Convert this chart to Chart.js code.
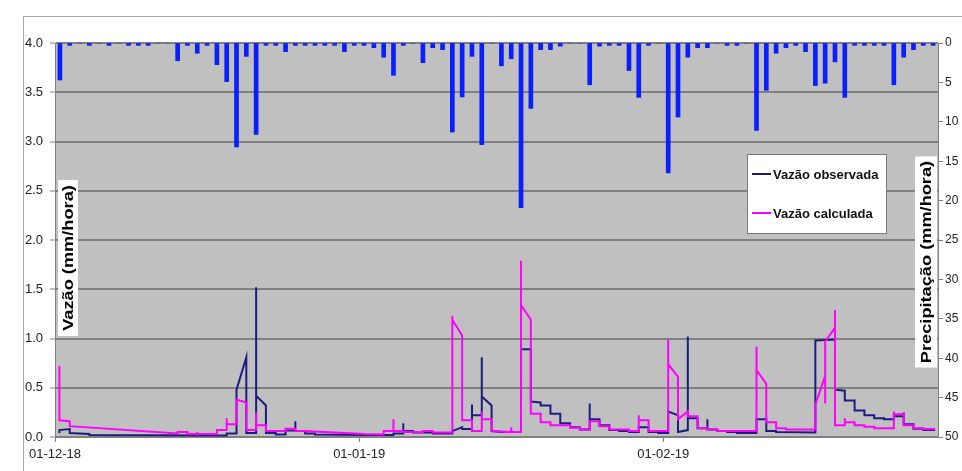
<!DOCTYPE html>
<html lang="pt">

<head>
  <meta charset="UTF-8">
  <meta name="viewport" content="width=device-width, initial-scale=1.0">
  <script src="https://cdn.jsdelivr.net/npm/chart.js@4.4.0/dist/chart.umd.min.js"></script>
  <title>Vazão x Precipitação</title>
</head>

<body>
  <canvas id="grafico" width="962" height="471"></canvas>
</body>

<script>
  // dias do eixo x (0 = 01-12-18)
  var xTickDays = [0, 31, 62];
  var xTickLabels = ['01-12-18', '01-01-19', '01-02-19'];

  // precipitação diária (mm), 01-12-18 .. 28-02-19
  var precip = [
    4.7, 0.3, 0, 0.3, 0, 0.3, 0, 0.3, 0.3, 0.3,
    0, 0, 2.25, 0.3, 1.3, 0.3, 2.75, 4.9, 13.2, 1.7,
    11.6, 0.3, 0.3, 1.1, 0.3, 0.3, 0.3, 0.3, 0.3, 1.1,
    0.3, 0.3, 0.6, 1.8, 4.1, 0.3, 0, 2.5, 0.6, 0.85,
    11.3, 6.85, 1.7, 12.9, 0, 2.9, 2.0, 20.9, 8.3, 0.85,
    0.85, 0.4, 0, 0, 5.3, 0.4, 0.3, 0.3, 3.5, 6.9,
    0.3, 0, 16.5, 9.4, 1.8, 0.6, 0.6, 0, 0.3, 0.3,
    0, 11.1, 6.0, 1.3, 0.6, 0.3, 1.1, 5.4, 5.1, 2.4,
    6.9, 0.3, 0.3, 0.3, 0.3, 5.3, 1.8, 0.85, 0.3, 0.3
  ];

  // vazão observada [dia, mm/hora]
  var observada = [
    [0.45, 0.04], [0.45, 0.07], [1.5, 0.08], [1.5, 0.04], [3.5, 0.03], [3.5, 0.02], [17.5, 0.015], [17.5, 0.035],
    [18.5, 0.035], [18.5, 0.48], [19.5, 0.81], [19.5, 0.04], [20.5, 0.04], [20.5, 1.52], [20.5, 0.42], [21.5, 0.32],
    [21.5, 0.04], [22.5, 0.04], [22.5, 0.025], [23.5, 0.025], [23.5, 0.065], [24.5, 0.065], [24.5, 0.16], [24.5, 0.06],
    [25.5, 0.06], [25.5, 0.035], [26.5, 0.035], [26.5, 0.025], [31.5, 0.02], [34.5, 0.02], [34.5, 0.035], [35.5, 0.035],
    [35.5, 0.14], [35.5, 0.06], [36.5, 0.06], [36.5, 0.045], [38.5, 0.045], [38.5, 0.035], [40.5, 0.035], [40.5, 0.06],
    [41.5, 0.1], [41.5, 0.08], [42.5, 0.08], [42.5, 0.33], [42.5, 0.22], [43.5, 0.22], [43.5, 0.81], [43.5, 0.41],
    [44.5, 0.32], [44.5, 0.06], [45.5, 0.05], [46.5, 0.05], [46.5, 0.07], [46.5, 0.05], [47.5, 0.05], [47.5, 0.89],
    [48.5, 0.89], [48.5, 0.36], [49.5, 0.35], [49.5, 0.32], [50.5, 0.32], [50.5, 0.235], [51.5, 0.235], [51.5, 0.14],
    [52.5, 0.14], [52.5, 0.10], [53.5, 0.10], [53.5, 0.075], [54.5, 0.075], [54.5, 0.34], [54.5, 0.18], [55.5, 0.18],
    [55.5, 0.12], [56.5, 0.12], [56.5, 0.07], [57.5, 0.07], [57.5, 0.06], [58.5, 0.06], [58.5, 0.05], [59.5, 0.05],
    [59.5, 0.10], [60.5, 0.10], [60.5, 0.05], [61.5, 0.05], [61.5, 0.04], [62.5, 0.04], [62.5, 0.26], [63.5, 0.22],
    [63.5, 0.05], [64.5, 0.07], [64.5, 1.02], [64.5, 0.19], [65.5, 0.19], [65.5, 0.09], [66.5, 0.09], [66.5, 0.18],
    [66.5, 0.075], [67.5, 0.075], [67.5, 0.06], [68.5, 0.06], [68.5, 0.05], [69.5, 0.05], [69.5, 0.04], [71.5, 0.04],
    [71.5, 0.18], [72.5, 0.18], [72.5, 0.06], [73.5, 0.06], [73.5, 0.05], [77.5, 0.045], [77.5, 0.98], [79.5, 0.99],
    [79.5, 0.48], [80.5, 0.47], [80.5, 0.37], [81.5, 0.37], [81.5, 0.27], [82.5, 0.27], [82.5, 0.22], [83.5, 0.22],
    [83.5, 0.19], [84.5, 0.19], [84.5, 0.18], [85.5, 0.18], [85.5, 0.21], [86.5, 0.21], [86.5, 0.25], [86.5, 0.13],
    [87.5, 0.13], [87.5, 0.085], [88.5, 0.085], [88.5, 0.07], [89.7, 0.07]
  ];

  // vazão calculada [dia, mm/hora]
  var calculada = [
    [0.45, 0.72], [0.45, 0.17], [1.5, 0.16], [1.5, 0.11], [12.5, 0.035], [12.5, 0.05], [13.5, 0.05], [13.5, 0.03],
    [14.5, 0.03], [14.5, 0.05], [14.5, 0.03], [16.5, 0.03], [16.5, 0.07], [17.5, 0.07], [17.5, 0.19], [17.5, 0.13],
    [18.5, 0.13], [18.5, 0.38], [19.5, 0.35], [19.5, 0.07], [20.5, 0.07], [20.5, 0.25], [20.5, 0.12], [21.5, 0.12],
    [21.5, 0.06], [23.5, 0.06], [23.5, 0.085], [24.5, 0.085], [24.5, 0.06], [25.5, 0.06], [31.5, 0.03], [33.5, 0.025],
    [33.5, 0.06], [34.5, 0.06], [34.5, 0.18], [34.5, 0.06], [35.5, 0.06], [35.5, 0.05], [37.5, 0.05], [37.5, 0.06],
    [38.5, 0.06], [38.5, 0.045], [40.5, 0.045], [40.5, 1.23], [40.5, 1.19], [41.5, 1.03], [41.5, 0.17], [42.5, 0.17],
    [42.5, 0.06], [43.5, 0.06], [43.5, 0.26], [43.5, 0.18], [44.5, 0.18], [44.5, 0.06], [46.5, 0.05], [46.5, 0.1],
    [46.5, 0.05], [47.5, 0.05], [47.5, 1.79], [47.5, 1.34], [48.5, 1.19], [48.5, 0.235], [49.5, 0.235], [49.5, 0.15],
    [50.5, 0.15], [50.5, 0.12], [52.5, 0.12], [52.5, 0.095], [53.5, 0.095], [53.5, 0.075], [54.5, 0.075], [54.5, 0.16],
    [55.5, 0.16], [55.5, 0.11], [56.5, 0.11], [56.5, 0.075], [58.5, 0.075], [58.5, 0.06], [59.5, 0.06], [59.5, 0.22],
    [59.5, 0.17], [60.5, 0.17], [60.5, 0.06], [62.5, 0.06], [62.5, 0.99], [62.5, 0.74], [63.5, 0.61], [63.5, 0.18],
    [64.5, 0.26], [64.5, 0.21], [65.5, 0.21], [65.5, 0.09], [66.5, 0.09], [66.5, 0.075], [67.5, 0.075], [67.5, 0.06],
    [71.5, 0.06], [71.5, 0.92], [71.5, 0.68], [72.5, 0.54], [72.5, 0.15], [73.5, 0.15], [73.5, 0.09], [74.5, 0.09],
    [74.5, 0.075], [77.5, 0.075], [77.5, 0.33], [78.5, 0.62], [78.5, 0.34], [78.5, 0.97], [79.5, 1.11], [79.5, 1.29],
    [79.5, 0.12], [80.5, 0.12], [80.5, 0.19], [80.5, 0.15], [81.5, 0.15], [81.5, 0.12], [82.5, 0.12], [82.5, 0.105],
    [83.5, 0.105], [83.5, 0.09], [85.5, 0.09], [85.5, 0.26], [85.5, 0.23], [86.5, 0.23], [86.5, 0.12], [87.5, 0.12],
    [87.5, 0.09], [88.5, 0.09], [88.5, 0.08], [89.7, 0.08]
  ];

  var corObservada = '#1c1c80';
  var corCalculada = '#ff00ff';
  var fonte = '"Liberation Sans", Arial, sans-serif';

  Chart.defaults.font.family = fonte;
  Chart.defaults.color = '#333';

  // barras no meio de cada dia (objetos: array seria lido como barra flutuante)
  var precipData = precip.map(function (v, i) { return { x: i + 0.5, y: v }; });

  /* titulo rotacionado com caixa branca, dentro da area do grafico */
  function tituloLateral(ctx, texto, cx, cy, w, h) {
    ctx.fillStyle = '#fff';
    ctx.fillRect(cx - w / 2, cy - h / 2, w, h);
    ctx.save();
    ctx.translate(cx, cy);
    ctx.rotate(-Math.PI / 2);
    ctx.scale(1.3, 1);
    ctx.font = 'bold 14px ' + fonte;
    ctx.textAlign = 'center';
    ctx.textBaseline = 'middle';
    ctx.fillStyle = '#000';
    ctx.fillText(texto, 0, 1);
    ctx.restore();
  }

  var decoracao = {
    id: 'decoracao',
    beforeDraw: function (chart) {
      var ctx = chart.ctx, a = chart.chartArea;
      ctx.save();
      ctx.fillStyle = '#fff';
      ctx.fillRect(0, 0, chart.width, chart.height);
      ctx.strokeStyle = '#a8a8a8';
      ctx.lineWidth = 1;
      ctx.beginPath();
      ctx.moveTo(23.5, chart.height);
      ctx.lineTo(23.5, 16.5);
      ctx.lineTo(chart.width, 16.5);
      ctx.stroke();
      ctx.fillStyle = '#c0c0c0';
      ctx.fillRect(a.left, a.top, a.right - a.left, a.bottom - a.top);
      ctx.restore();
    },
    afterDraw: function (chart) {
      var ctx = chart.ctx;
      ctx.save();
      tituloLateral(ctx, 'Vazão (mm/hora)', 68, 258, 20, 156);
      tituloLateral(ctx, 'Precipitação (mm/hora)', 926, 262, 22, 211);

      // legenda
      ctx.fillStyle = '#fff';
      ctx.fillRect(747, 154, 139, 79);
      ctx.strokeStyle = '#7a7a7a';
      ctx.lineWidth = 1;
      ctx.strokeRect(747.5, 154.5, 139, 79);
      var itens = [['Vazão observada', corObservada, 174], ['Vazão calculada', corCalculada, 213]];
      itens.forEach(function (it) {
        ctx.strokeStyle = it[1];
        ctx.lineWidth = 2;
        ctx.beginPath();
        ctx.moveTo(752, it[2]);
        ctx.lineTo(771, it[2]);
        ctx.stroke();
        ctx.fillStyle = '#111';
        ctx.font = 'bold 13px ' + fonte;
        ctx.textAlign = 'left';
        ctx.textBaseline = 'middle';
        ctx.fillText(it[0], 773, it[2] + 1);
      });
      ctx.restore();
    }
  };

  var ctx = document.getElementById('grafico').getContext('2d');
  var grafico = new Chart(ctx, {
    type: 'bar',
    data: {
      datasets: [{
        type: 'line',
        label: 'Vazão calculada',
        data: calculada,
        yAxisID: 'y',
        borderColor: corCalculada,
        borderWidth: 2,
        pointRadius: 0,
        tension: 0,
        fill: false,
        order: 0
      }, {
        type: 'line',
        label: 'Vazão observada',
        data: observada,
        yAxisID: 'y',
        borderColor: corObservada,
        borderWidth: 2,
        pointRadius: 0,
        tension: 0,
        fill: false,
        order: 1
      }, {
        label: 'Precipitação',
        data: precipData,
        yAxisID: 'y2',
        backgroundColor: '#0a1eff',
        borderWidth: 0,
        barThickness: 4,
        order: 2
      }]
    },
    options: {
      responsive: false,
      animation: false,
      layout: { padding: { top: 43, left: 0, right: 0, bottom: 0 } },
      plugins: {
        legend: { display: false },
        tooltip: { enabled: false }
      },
      scales: {
        x: {
          type: 'linear',
          min: 0,
          max: 90,
          offset: false,
          afterFit: function (scale) { scale.height = 34; },
          afterBuildTicks: function (scale) {
            scale.ticks = xTickDays.map(function (d) { return { value: d }; });
          },
          ticks: {
            autoSkip: false,
            maxRotation: 0,
            padding: 5,
            color: '#222',
            font: { size: 13 },
            callback: function (v) { return xTickLabels[xTickDays.indexOf(v)]; }
          },
          grid: { offset: false, drawOnChartArea: false, tickLength: 5, color: '#808080' },
          border: { color: '#808080' }
        },
        y: {
          position: 'left',
          min: 0,
          max: 4,
          afterFit: function (scale) { scale.width = 55; },
          ticks: {
            stepSize: 0.5,
            padding: 7,
            color: '#222',
            font: { size: 13 },
            callback: function (v) { return v.toFixed(1); }
          },
          grid: { color: '#808080', lineWidth: 2, tickLength: 5, tickWidth: 1, tickColor: '#808080' },
          border: { color: '#808080' }
        },
        y2: {
          position: 'right',
          min: 0,
          max: 50,
          reverse: true,
          afterFit: function (scale) { scale.width = 24; },
          ticks: {
            stepSize: 5,
            padding: 2,
            color: '#222',
            font: { size: 12 }
          },
          grid: { drawOnChartArea: false, tickLength: 5, color: '#808080' },
          border: { color: '#808080' }
        }
      }
    },
    plugins: [decoracao]
  });
</script>

<style>
  body {
    margin: 0;
    background: #fff;
  }

  canvas {
    display: block;
  }
</style>

</html>
